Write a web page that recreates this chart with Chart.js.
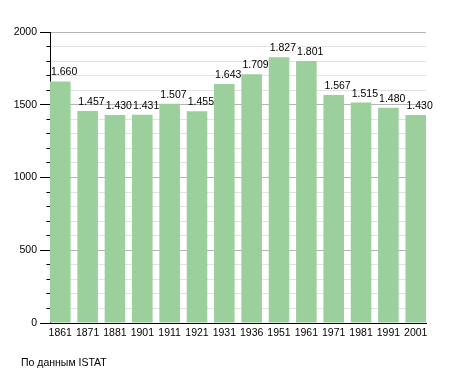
<!DOCTYPE html>
<html><head><meta charset="utf-8">
<script src="https://cdn.jsdelivr.net/npm/chart.js@4"></script>
<style>
html,body{margin:0;padding:0;background:#fff}
#wrap{position:relative;width:455px;height:373px}
#src{position:absolute;left:21px;top:356px;font:10.5px "Liberation Sans",Arial,sans-serif;line-height:12px;color:#000;white-space:nowrap}
</style>
</head><body>
<div id="wrap"><canvas id="c" width="455" height="373"></canvas><div id="src">По данным ISTAT</div></div>
<script>
const years = ['1861','1871','1881','1901','1911','1921','1931','1936','1951','1961','1971','1981','1991','2001'];
const population = [1660,1457,1430,1431,1507,1455,1643,1709,1827,1801,1567,1515,1480,1430];
const yTickLabels = [0,500,1000,1500,2000];
const sourceNote = 'По данным ISTAT';

const FONT = {family:'"Liberation Sans", Arial, sans-serif', size:10.5};
const fmt = v => String(v).replace(/\B(?=(\d{3})+(?!\d))/g,'.');

const valueLabels = {
  id:'valueLabels',
  afterDatasetsDraw(chart){
    const ctx = chart.ctx, meta = chart.getDatasetMeta(0);
    ctx.save();
    ctx.font = '10.5px "Liberation Sans", Arial, sans-serif';
    ctx.fillStyle = '#000';
    ctx.textAlign = 'left';
    ctx.textBaseline = 'alphabetic';
    meta.data.forEach((bar,i)=>{
      const p = bar.getProps(['x','y','width'], true);
      ctx.fillText(fmt(population[i]), p.x - p.width/2 + 1, p.y - 6);
    });
    ctx.restore();
  }
};

new Chart(document.getElementById('c'), {
  type:'bar',
  data:{
    datasets:[{
      data: population.map((v,i)=>({x:i, y:v})),
      backgroundColor:'rgb(155,207,155)',
      borderWidth:0,
      categoryPercentage:1,
      barPercentage:0.752
    }]
  },
  options:{
    responsive:false,
    animation:false,
    devicePixelRatio:1,
    layout:{padding:{left:0,right:29,top:32,bottom:30}},
    plugins:{legend:{display:false},tooltip:{enabled:false}},
    scales:{
      x:{
        type:'linear',
        offset:false,
        min:-0.376, max:13.376,
        grid:{display:false, drawTicks:false},
        border:{display:true, color:'#000', width:1},
        afterBuildTicks:s=>{ s.ticks = years.map((_,i)=>({value:i})); },
        ticks:{
          autoSkip:false, maxRotation:0, minRotation:0, padding:4,
          color:'#000', font:FONT,
          callback:v => years[Math.round(v)] || ''
        },
        afterFit:s=>{ s.height = 20; }
      },
      y:{
        min:0, max:2000,
        grid:{
          color:c => c.tick.value === 0 ? '#000' : (c.tick.value % 500 === 0 ? '#b4b4b4' : '#e2e2e2'),
          tickColor:'#000',
          tickLength:10,
          tickBorderDash:c => c.tick.value % 500 === 0 ? [] : [0,6.5,10],
          drawTicks:true
        },
        border:{display:true, color:'#000', width:1},
        ticks:{
          stepSize:100, autoSkip:false, padding:3, color:'#000', font:FONT,
          callback:v => yTickLabels.includes(v) ? String(v) : ''
        },
        afterFit:s=>{ s.width = 50; }
      }
    }
  },
  plugins:[valueLabels]
});
</script>
</body></html>
